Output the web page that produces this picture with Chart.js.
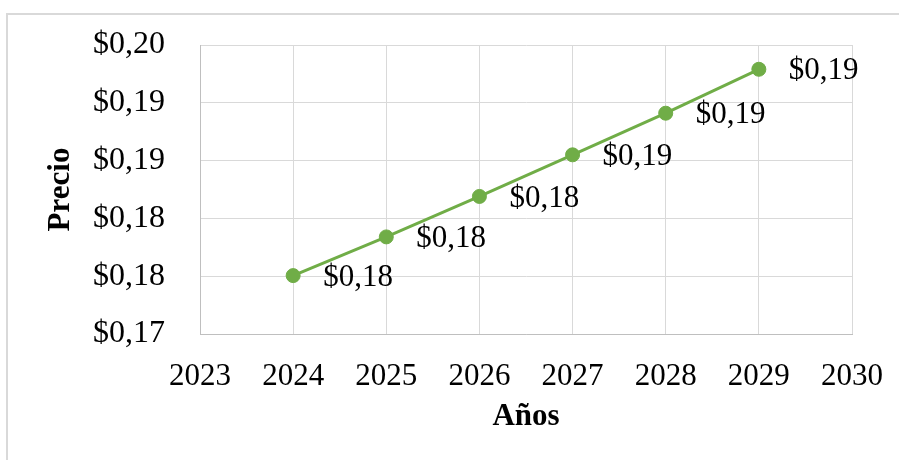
<!DOCTYPE html>
<html>
<head>
<meta charset="utf-8">
<title>Precio por año</title>
<script src="https://cdn.jsdelivr.net/npm/chart.js@4.4.1/dist/chart.umd.min.js"></script>
<style>
  html, body { margin: 0; padding: 0; background: #fff; }
  #wrap { position: relative; width: 899px; height: 460px; }
</style>
</head>
<body>
<div id="wrap"><canvas id="chart" width="899" height="460"></canvas></div>
<script>
// datos de la serie
const years = [2024, 2025, 2026, 2027, 2028, 2029];
const prices = [0.17505, 0.1784, 0.1819, 0.1855, 0.1891, 0.1929];

// etiquetas del eje Y (de abajo hacia arriba)
const yTickLabels = ['$0,17', '$0,18', '$0,18', '$0,19', '$0,19', '$0,20'];

const FONT = "'Liberation Serif', 'Times New Roman', serif";
const lineColor = '#70ad47';
const gridColor = '#d9d9d9';

function money(v) {
    return '$' + (Math.round(v * 100) / 100).toFixed(2).replace('.', ',');
}

// marco gris exterior y fondo blanco
const framePlugin = {
    id: 'frame',
    beforeDraw(chart) {
        const c = chart.ctx;
        c.save();
        c.fillStyle = '#fff';
        c.fillRect(0, 0, chart.width, chart.height);
        c.strokeStyle = gridColor;
        c.lineWidth = 2;
        c.beginPath();
        c.moveTo(7, chart.height);
        c.lineTo(7, 14);
        c.lineTo(chart.width, 14);
        c.stroke();
        c.restore();
    }
};

// etiquetas de valor a la derecha de cada punto
const valueLabels = {
    id: 'valueLabels',
    afterDatasetsDraw(chart) {
        const c = chart.ctx;
        const meta = chart.getDatasetMeta(0);
        c.save();
        c.font = '31px ' + FONT;
        c.fillStyle = '#000';
        c.textAlign = 'left';
        c.textBaseline = 'middle';
        meta.data.forEach((pt, i) => {
            c.fillText(money(prices[i]), pt.x + 30, pt.y + 2);
        });
        c.restore();
    }
};

const ctx = document.getElementById('chart').getContext('2d');
new Chart(ctx, {
    type: 'line',
    data: {
        datasets: [{
            label: 'Precio',
            data: years.map((y, i) => ({ x: y, y: prices[i] })),
            borderColor: lineColor,
            backgroundColor: lineColor,
            borderWidth: 3,
            pointRadius: 7,
            pointBorderWidth: 1,
            pointHoverRadius: 7,
            tension: 0
        }]
    },
    options: {
        responsive: false,
        animation: false,
        events: [],
        layout: { padding: { top: 45, right: 47, bottom: 0, left: 0 } },
        plugins: {
            legend: { display: false },
            tooltip: { enabled: false }
        },
        scales: {
            x: {
                type: 'linear',
                min: 2023,
                max: 2030,
                // alto fijo y sin relleno extra a los lados
                afterFit(scale) {
                    scale.height = 126;
                    scale.paddingLeft = 0;
                    scale.paddingRight = 0;
                },
                ticks: {
                    stepSize: 1,
                    padding: 24,
                    color: '#000',
                    font: { family: FONT, size: 31 },
                    callback: v => String(v)
                },
                grid: { color: gridColor, lineWidth: 1, drawTicks: false },
                border: { color: '#bfbfbf', width: 1 },
                title: {
                    display: true,
                    text: 'Años',
                    color: '#000',
                    font: { family: FONT, size: 31, weight: 'bold' },
                    padding: { top: 0, bottom: 24 }
                }
            },
            y: {
                min: 0.17,
                max: 0.195,
                afterFit(scale) {
                    scale.width = 200;
                    scale.paddingTop = 0;
                    scale.paddingBottom = 0;
                },
                ticks: {
                    stepSize: 0.005,
                    padding: 35,
                    color: '#000',
                    font: { family: FONT, size: 32 },
                    callback: (v, i) => yTickLabels[i]
                },
                grid: { color: gridColor, lineWidth: 1, drawTicks: false },
                border: { color: '#bfbfbf', width: 1 },
                title: {
                    display: true,
                    text: 'Precio',
                    color: '#000',
                    font: { family: FONT, size: 31, weight: 'bold' },
                    padding: { top: 42, bottom: 0 }
                }
            }
        }
    },
    plugins: [framePlugin, valueLabels]
});
</script>
</body>
</html>
